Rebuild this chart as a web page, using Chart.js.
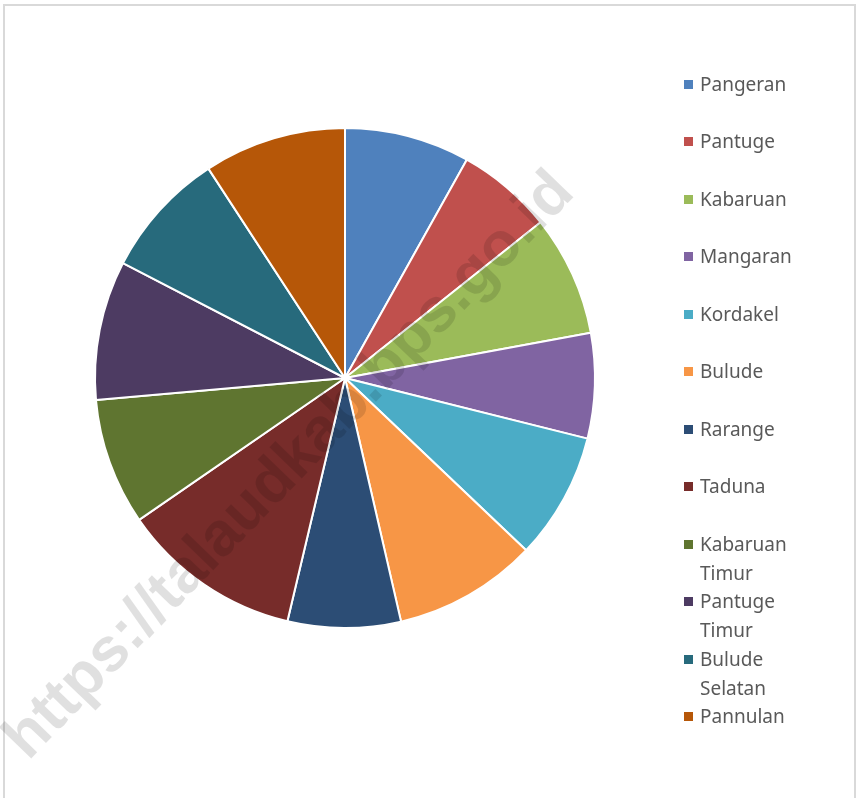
<!DOCTYPE html>
<html>
<head>
<meta charset="utf-8">
<script src="https://cdn.jsdelivr.net/npm/chart.js@4.4.1/dist/chart.umd.min.js"></script>
<style>
  html, body { margin: 0; padding: 0; background: #fff; overflow: hidden; }
  #wrap { position: relative; width: 858px; height: 798px; }
  #frame { position: absolute; left: 3px; top: 4px; width: 849px; height: 820px; border: 2px solid #d9d9d9; }
  #pie { position: absolute; left: 0; top: 0; }
  #legend { position: absolute; left: 684px; top: 0; font-family: "Noto Sans", sans-serif; font-size: 19px; color: #595959; }
  .item { position: absolute; left: 0; width: 150px; line-height: 29px; }
  .box { position: absolute; left: 0; top: 10px; width: 9px; height: 9px; }
  .txt { position: absolute; left: 16px; width: 118px; }
</style>
</head>
<body>
<div id="wrap">
  <div id="frame"></div>
  <canvas id="pie" width="858" height="798"></canvas>
  <div id="legend"></div>
</div>
<script>
// --- data ---
const districts = ['Pangeran', 'Pantuge', 'Kabaruan', 'Mangaran', 'Kordakel', 'Bulude', 'Rarange', 'Taduna', 'Kabaruan Timur', 'Pantuge Timur', 'Bulude Selatan', 'Pannulan'];
const shares = [8.1, 6.2, 7.8, 6.8, 8.2, 9.3, 7.3, 11.7, 8.2, 9.0, 8.2, 9.2];
const sliceColors = ['#4F81BD', '#C0504D', '#9BBB59', '#8064A2', '#4BACC6', '#F79646', '#2C4D75', '#772C2A', '#5F7530', '#4D3B62', '#276A7C', '#B65708'];
const WATERMARK = 'https://talaudkab.bps.go.id';

// watermark drawn over the pie, like the source image
const watermarkPlugin = {
    id: 'watermark',
    afterDraw(chart) {
        const ctx = chart.ctx;
        ctx.save();
        ctx.translate(290, 466);
        ctx.rotate(-46 * Math.PI / 180);
        ctx.font = 'bold 62px "Liberation Sans", Arial, sans-serif';
        ctx.fillStyle = 'rgba(0, 0, 0, 0.12)';
        ctx.textAlign = 'center';
        ctx.textBaseline = 'middle';
        ctx.fillText(WATERMARK, 0, 0);
        ctx.restore();
    }
};

const ctx = document.getElementById('pie').getContext('2d');
new Chart(ctx, {
    type: 'pie',
    data: {
        labels: districts,
        datasets: [{
            data: shares,
            backgroundColor: sliceColors,
            borderColor: '#ffffff',
            borderWidth: 2
        }]
    },
    options: {
        responsive: false,
        animation: false,
        layout: { padding: { left: 94, top: 127, right: 262, bottom: 169 } },
        plugins: {
            legend: { display: false },
            tooltip: { enabled: false }
        }
    },
    plugins: [watermarkPlugin]
});

// --- legend (Excel style, fixed slots) ---
const legend = document.getElementById('legend');
districts.forEach((name, i) => {
    const item = document.createElement('div');
    item.className = 'item';
    item.style.top = (84 - 14.5 + i * 57.5) + 'px';
    item.innerHTML = `<span class="box" style="background:${sliceColors[i]}"></span><span class="txt">${name}</span>`;
    legend.appendChild(item);
});
</script>
</body>
</html>
